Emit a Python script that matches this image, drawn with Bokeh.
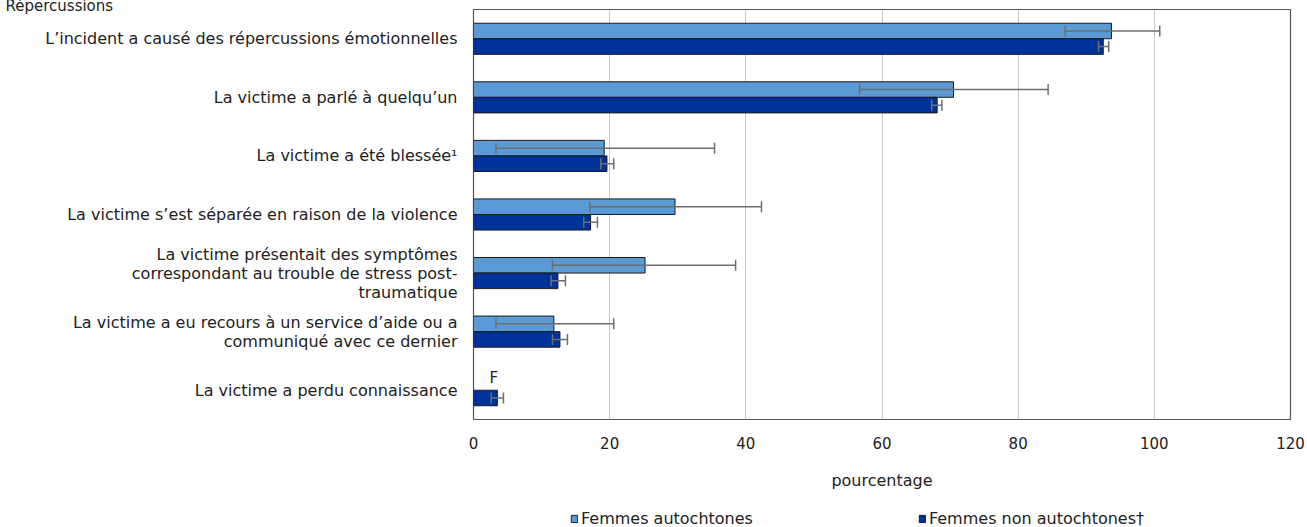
from bokeh.plotting import figure
from bokeh.layouts import column
from bokeh.models import (Range1d, ColumnDataSource, Whisker, TeeHead, Legend, LegendItem,
                          FixedTicker, Title)
from bokeh.core.properties import value
from bokeh.embed import file_html
from bokeh.resources import INLINE

categories = [
    "L’incident a causé des répercussions émotionnelles",
    "La victime a parlé à quelqu’un",
    "La victime a été blessée¹",
    "La victime s’est séparée en raison de la violence",
    "La victime présentait des symptômes\ncorrespondant au trouble de stress post-\ntraumatique",
    "La victime a eu recours à un service d’aide ou a\ncommuniqué avec ce dernier",
    "La victime a perdu connaissance",
]
autochtones = [93.7, 70.5, 19.2, 29.6, 25.2, 11.8, None]
autochtones_low = [86.9, 56.7, 3.3, 17.1, 11.6, 3.3, None]
autochtones_high = [100.8, 84.4, 35.4, 42.3, 38.5, 20.6, None]
non_autochtones = [92.5, 68.1, 19.6, 17.2, 12.4, 12.7, 3.5]
non_autochtones_low = [91.8, 67.3, 18.7, 16.2, 11.4, 11.6, 2.6]
non_autochtones_high = [93.3, 68.8, 20.6, 18.2, 13.5, 13.8, 4.4]
x_ticks = [0, 20, 40, 60, 80, 100, 120]
series_names = ["Femmes autochtones", "Femmes non autochtones†"]
colors = ["#5B9BD5", "#003399"]
y_axis_title = "Répercussions"
x_axis_title = "pourcentage"

FONT = "DejaVu Sans"
TXT = "#222222"
n = len(categories)
centers = [n - 0.5 - i for i in range(n)]
off = 0.133
h = 0.265

p = figure(frame_width=817, frame_height=410, output_backend="svg", toolbar_location=None,
           x_range=Range1d(0, 120), y_range=Range1d(0, n),
           min_border_left=473, min_border_right=17, min_border_top=0, min_border_bottom=79)

t = Title(text=y_axis_title, align="left", offset=-468, standoff=-11,
          text_font=FONT, text_font_size="15px", text_font_style="normal", text_color=TXT)
p.add_layout(t, "above")

idx_a = [i for i in range(n) if autochtones[i] is not None]
src_a = ColumnDataSource(dict(
    y=[centers[i] + off for i in idx_a],
    right=[autochtones[i] for i in idx_a],
    lo=[autochtones_low[i] for i in idx_a],
    hi=[autochtones_high[i] for i in idx_a]))
src_n = ColumnDataSource(dict(
    y=[c - off for c in centers],
    right=non_autochtones, lo=non_autochtones_low, hi=non_autochtones_high))

ra = p.hbar(y="y", right="right", left=0, height=h, source=src_a,
            fill_color=colors[0], line_color="#1a1a1a", line_width=1)
rn = p.hbar(y="y", right="right", left=0, height=h, source=src_n,
            fill_color=colors[1], line_color="#1a1a1a", line_width=1)

for src in (src_a, src_n):
    w = Whisker(base="y", lower="lo", upper="hi", dimension="width", source=src,
                level="overlay", line_color="#6e6e6e", line_width=1.5,
                lower_head=TeeHead(size=11, line_color="#6e6e6e", line_width=1.5),
                upper_head=TeeHead(size=11, line_color="#6e6e6e", line_width=1.5))
    p.add_layout(w)

# "F" for unreliable estimate
idx_f = [i for i in range(n) if autochtones[i] is None]
p.text(x=[0] * len(idx_f), y=[centers[i] + off for i in idx_f], text=["F"] * len(idx_f),
       x_offset=16, y_offset=-4, text_font=value(FONT), text_font_size="15px", text_color=TXT,
       text_align="left", text_baseline="middle")

# axes
p.xaxis.ticker = FixedTicker(ticks=x_ticks)
p.xaxis.axis_line_color = None
p.xaxis.major_tick_line_color = None
p.xaxis.minor_tick_line_color = None
p.xaxis.major_label_standoff = 11
p.xaxis.major_label_text_font = FONT
p.xaxis.major_label_text_font_size = "15px"
p.xaxis.major_label_text_color = TXT
p.xaxis.axis_label = x_axis_title
p.xaxis.axis_label_text_font = FONT
p.xaxis.axis_label_text_font_size = "16px"
p.xaxis.axis_label_text_font_style = "normal"
p.xaxis.axis_label_text_color = TXT
p.xaxis.axis_label_standoff = 19

p.yaxis.ticker = FixedTicker(ticks=centers)
p.yaxis.major_label_overrides = {c: lab for c, lab in zip(centers, categories)}
p.yaxis.axis_line_color = None
p.yaxis.major_tick_line_color = None
p.yaxis.minor_tick_line_color = None
p.yaxis.major_label_standoff = 10
p.yaxis.major_label_text_font = FONT
p.yaxis.major_label_text_font_size = "16px"
p.yaxis.major_label_text_color = TXT
p.yaxis.major_label_text_align = "right"
p.yaxis.major_label_text_line_height = 1.0

p.xgrid.grid_line_color = "#c8c8c8"
p.ygrid.grid_line_color = None
p.outline_line_color = "#555555"
p.outline_line_width = 1.2

# legend strip
lg = figure(width=1307, height=30, output_backend="svg", toolbar_location=None,
            x_range=Range1d(0, 1), y_range=Range1d(0, 1), min_border=0)
lg.axis.visible = False
lg.grid.grid_line_color = None
lg.outline_line_color = None
la = lg.hbar(y=[0.5], right=[0], height=0, fill_color=colors[0], line_color="#1a1a1a")
ln = lg.hbar(y=[0.5], right=[0], height=0, fill_color=colors[1], line_color="#1a1a1a")
legend = Legend(items=[LegendItem(label=series_names[0], renderers=[la]),
                       LegendItem(label=series_names[1], renderers=[ln])],
                orientation="horizontal", location=(97, 0), spacing=165,
                glyph_width=8, glyph_height=9, label_standoff=3,
                label_text_font=FONT, label_text_font_size="16px", label_text_color=TXT,
                border_line_color=None, background_fill_alpha=0, padding=2, margin=0)
lg.add_layout(legend, "center")

layout = column(p, lg, spacing=0)
open("out.html", "w").write(file_html(layout, INLINE))
